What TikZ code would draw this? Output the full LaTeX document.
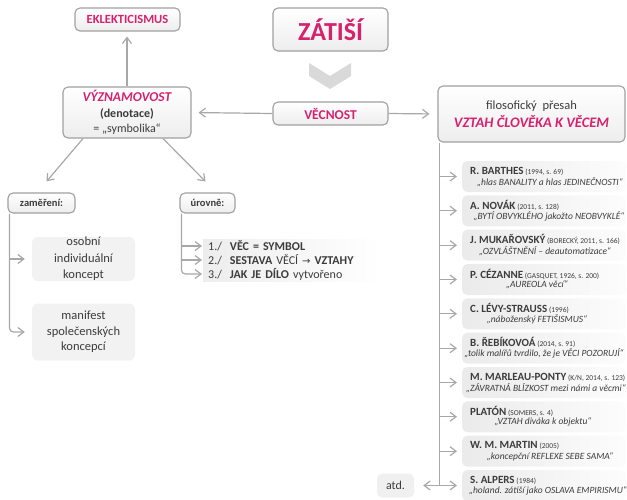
\documentclass[tikz,border=0pt]{standalone}
\usepackage{fontspec}
\setmainfont{Carlito}
\newfontfamily\arrowfont{DejaVu Sans}
\usetikzlibrary{arrows.meta}
\definecolor{accent}{HTML}{D6226E}
\definecolor{ink}{HTML}{3C3C3C}
\definecolor{conn}{HTML}{A8A8A8}
\definecolor{frame}{HTML}{A0A0A0}
\definecolor{chev}{HTML}{D9D9D9}
\newcommand\fsz[2]{\fontsize{#1}{#2}\selectfont}
% one author entry: name, header y, author, citation, quote x, quote
\newcommand\entry[6]{%
  \node[entry, anchor=west] (#1) at (462,#2+5.5) {};
  \node[anchor=west, font=\bfseries\fsz{11}{12}] at (470,#2) {#3\,{\mdseries\fsz{7.5}{8}#4}};
  \node[font=\itshape\fsz{9.5}{10}] at (#5,#2+11) {#6};
}
\begin{document}
\begin{tikzpicture}[x=1pt,y=-1pt,
  every node/.style={text=ink, inner sep=0pt},
  card/.style={draw=frame, line width=1.1pt, rounded corners=5pt, top color=white, bottom color=black!7},
  pale/.style={fill=black!5, rounded corners=6pt},
  entry/.style={left color=black!8, right color=black!1, rounded corners=5pt, minimum width=164pt, minimum height=31pt},
  band/.style={left color=black!7, right color=white, minimum height=14pt, text width=167pt, inner xsep=5pt, align=left, font=\fsz{12}{14}},
  link/.style={draw=conn, line width=1.2pt, -{Straight Barb[length=6pt,width=9pt]}},
  trunk/.style={draw=conn, line width=1.2pt},
]
\useasboundingbox (0,0) rectangle (627,499);

% central column
\node[card, minimum width=115pt, minimum height=43pt, text=accent, font=\bfseries\fsz{26}{30}] (zat) at (330.5,29.5) {ZÁTIŠÍ};
\fill[chev] (309,63) -- (330,76) -- (351,63) -- (351,76) -- (330,89) -- (309,76) -- cycle;
\node[card, minimum width=115pt, minimum height=23pt, text=accent, font=\bfseries\fsz{13.5}{16}] (vec) at (330.5,113.5) {VĚCNOST};

% left branch
\node[card, minimum width=105pt, minimum height=23pt, text=accent, font=\bfseries\fsz{12.5}{14}] (ekl) at (127.5,19.5) {EKLEKTICISMUS};
\node[card, minimum width=128pt, minimum height=51pt, align=center, font=\fsz{12}{15.5}] (vyz) at (127,112.5)
  {{\color{accent}\bfseries\itshape\fontsize{13.5}{15.5}\selectfont VÝZNAMOVOST}\\ {\bfseries (denotace)}\\ = „symbolika“};
\node[card, minimum width=67pt, minimum height=20pt, font=\bfseries\fsz{10.5}{12}] (zam) at (41.5,203) {zaměření:};
\node[card, minimum width=55pt, minimum height=20pt, font=\bfseries\fsz{10.5}{12}] (uro) at (207.5,203) {úrovně:};
\node[pale, minimum width=103pt, minimum height=44pt, align=center, font=\fsz{12.5}{16.5}] (oso) at (83.5,259) {osobní\\individuální\\koncept};
\node[pale, minimum width=103pt, minimum height=57pt, align=center, font=\fsz{12.5}{15.5}] (man) at (83.5,332) {manifest\\společenských\\koncepcí};
\node[band, anchor=west] (it1) at (203,246) {1./ \ \textbf{VĚC = SYMBOL}};
\node[band, anchor=west] (it2) at (203,260) {2./ \ \textbf{SESTAVA} VĚCÍ {\arrowfont\fsz{10}{12}→} \textbf{VZTAHY}};
\node[band, anchor=west] (it3) at (203,274) {3./ \ \textbf{JAK JE DÍLO} vytvořeno};

% right branch
\node[card, minimum width=187pt, minimum height=56pt, align=center, font=\fsz{12.5}{18}] (fil) at (531.5,114)
  {filosofický\ \ přesah\\ {\color{accent}\bfseries\itshape\fontsize{14.5}{18}\selectfont VZTAH ČLOVĚKA K VĚCEM}};
\entry{e1}{171}{R. BARTHES}{(1994, s. 69)}{550}{„hlas BANALITY a hlas JEDINEČNOSTI“}
\entry{e2}{205.3}{A. NOVÁK}{(2011, s. 128)}{549}{„BYTÍ OBVYKLÉHO jakožto NEOBVYKLÉ“}
\entry{e3}{239.7}{J. MUKAŘOVSKÝ}{(BORECKÝ, 2011, s. 166)}{545}{„OZVLÁŠTNĚNÍ – deautomatizace“}
\entry{e4}{274}{P. CÉZANNE}{(GASQUET, 1926, s. 200)}{537}{„AUREOLA věcí“}
\entry{e5}{308.3}{C. LÉVY-STRAUSS}{(1996)}{537}{„náboženský FETIŠISMUS“}
\entry{e6}{342.7}{B. ŘEBÍKOVOÁ}{(2014, s. 91)}{544}{„tolik malířů tvrdilo, že je VĚCI POZORUJÍ“}
\entry{e7}{377}{M. MARLEAU-PONTY}{(K/N, 2014, s. 123)}{546}{„ZÁVRATNÁ BLÍZKOST mezi námi a věcmi“}
\entry{e8}{411.3}{PLATÓN}{(SOMERS, s. 4)}{543}{„VZTAH diváka k objektu“}
\entry{e9}{445.7}{W. M. MARTIN}{(2005)}{550}{„koncepční REFLEXE SEBE SAMA“}
\entry{e10}{480}{S. ALPERS}{(1984)}{548}{„holand. zátiší jako OSLAVA EMPIRISMU“}
\node[fill=black!6, rounded corners=5pt, minimum width=37pt, minimum height=24pt, font=\fsz{12}{14}] (atd) at (395.5,485.5) {atd.};

% connectors
\draw[link, shorten >=7pt] (vec.west) -- (vyz.east);
\draw[link, shorten >=8pt] (vec.east) -- (fil.west);
\draw[link, shorten >=5pt] (vyz.north) -- (vyz.north |- ekl.south);
\draw[link] ([xshift=-44pt]vyz.south) -- ([xshift=5pt,yshift=11pt]zam.north);
\draw[link] ([xshift=36pt]vyz.south) -- ([xshift=-2pt,yshift=11pt]uro.north);

\coordinate (zt) at ([xshift=2pt]zam.south west);
\draw[link, rounded corners=4pt, shorten >=7pt] (zt) |- (man.west);
\draw[link, shorten >=7pt] (zt |- oso.west) -- (oso.west);

\coordinate (ut) at ([xshift=2pt]uro.south west);
\draw[link, rounded corners=4pt, shorten >=1pt] (ut) |- (it3.west);
\foreach \t in {it1,it2} \draw[link, shorten >=1pt] (ut |- \t.west) -- (\t.west);

\coordinate (ft) at ([xshift=2pt]fil.south west);
\draw[trunk] (ft) -- (ft |- atd.east);
\foreach \t in {e1,e2,e3,e4,e5,e6,e7,e8,e9,e10} \draw[link, shorten >=5pt] (ft |- \t.west) -- (\t.west);
\draw[link, shorten >=9pt] (ft |- atd.east) -- (atd.east);
\end{tikzpicture}
\end{document}
